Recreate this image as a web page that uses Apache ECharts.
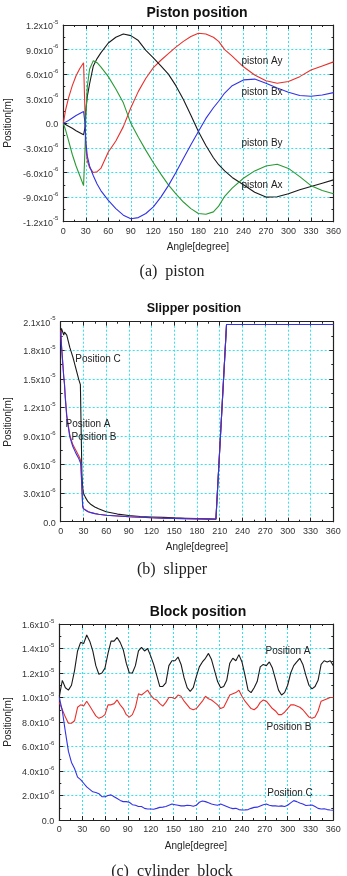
<!DOCTYPE html>
<html><head><meta charset="utf-8">
<script src="https://cdn.jsdelivr.net/npm/echarts@6/dist/echarts.min.js"></script>
<style>html,body{margin:0;padding:0;background:#fff}#c{width:347px;height:876px}</style>
</head><body><div id="c"></div>
<script>
// All position values are in units of 1e-6 m
// ---------- (a) piston ----------
const pistonAngles = [0,3,7,12,17,22,27,28,29,30,32,35,40,45,50,60,70,80,90,100,110,120,130,140,150,160,170,180,190,200,207,215,225,240,255,270,285,300,315,330,345,360];
const pistonAy = [0,1.6,3.1,4.6,5.8,6.7,7.4,7.2,1.0,-3.0,-4.6,-5.4,-6.0,-5.9,-5.5,-3.5,-2.15,-0.4,1.9,3.9,5.5,6.8,7.7,8.5,9.3,10.0,10.6,11.0,10.9,10.5,10.0,9.0,8.2,6.9,5.9,5.2,4.9,5.1,5.7,6.5,7.0,7.5];
const pistonAx = [0,-0.15,-0.35,-0.6,-0.9,-1.15,-1.4,-1.45,-0.5,1.5,3.3,4.8,7.0,7.9,8.6,9.8,10.5,10.9,10.7,10.1,8.9,8.0,7.0,6.0,4.6,2.9,1.0,-1.0,-2.7,-4.2,-5.05,-5.8,-6.6,-7.5,-8.4,-9.0,-8.95,-8.6,-8.1,-7.7,-7.3,-6.9];
const pistonBy = [0,-0.8,-2.1,-3.8,-5.2,-6.4,-7.6,-7.5,-3.0,1.0,4.5,6.6,7.65,7.4,6.9,5.7,4.2,2.5,0.0,-1.7,-3.3,-4.8,-6.2,-7.5,-8.6,-9.6,-10.4,-11.0,-11.1,-10.8,-10.1,-8.9,-7.9,-6.7,-5.8,-5.2,-5.0,-5.5,-6.5,-7.6,-8.2,-8.6];
const pistonBx = [0,0.15,0.35,0.65,0.95,1.2,1.45,1.5,0,-2.2,-4.0,-5.2,-6.4,-7.4,-8.2,-9.4,-10.4,-11.2,-11.65,-11.5,-11.0,-10.2,-9.0,-7.6,-6.0,-4.3,-2.6,-1.0,0.6,1.9,2.7,3.7,4.6,5.3,5.4,4.9,4.3,3.8,3.4,3.3,3.45,3.75];

// ---------- (b) slipper ----------
const slipperAngles = [0,1,3,4,5,6,8,12,16,20,24,26,27,28,29,30,33,36,40,45,50,60,75,90,105,120,135,150,165,180,195,205,206,219,240,270,300,330,360];
const slipperC = [19.6,20.3,20.1,19.6,19.9,20.0,19.6,18.3,17.3,16.1,14.9,14.4,14.2,5.0,3.6,3.0,2.5,2.1,1.8,1.55,1.35,1.05,0.8,0.65,0.55,0.5,0.45,0.4,0.37,0.34,0.31,0.28,0.28,20.7,20.7,20.7,20.7,20.7,20.7];
const slipperA = [20.1,18.6,16.4,15.3,14.5,13.2,11.2,9.1,8.1,7.5,6.9,6.5,6.3,3.6,1.7,1.4,1.22,1.07,0.96,0.86,0.78,0.68,0.6,0.52,0.47,0.42,0.38,0.35,0.32,0.3,0.27,0.25,0.25,20.7,20.7,20.7,20.7,20.7,20.7];
const slipperB = [20.0,18.5,16.3,15.2,14.4,13.0,11.0,8.9,7.9,7.2,6.6,6.2,5.9,3.5,1.6,1.35,1.2,1.05,0.95,0.85,0.78,0.68,0.6,0.52,0.47,0.42,0.38,0.35,0.32,0.3,0.27,0.25,0.25,20.7,20.7,20.7,20.7,20.7,20.7];

// ---------- (c) cylinder block ----------
const blockAngles = [0,4,8,12,16,20,24,28,32,36,40,44,48,52,56,60,64,68,72,76,80,84,88,92,96,100,104,108,112,116,120,124,128,132,136,140,144,148,152,156,160,164,168,172,176,180,184,188,192,196,200,204,208,212,216,220,224,228,232,236,240,244,248,252,256,260,264,268,272,276,280,284,288,292,296,300,304,308,312,316,320,324,328,332,336,340,344,348,352,356,360];
const blockA = [10.1,11.4,10.8,10.6,11.0,12.2,13.8,14.5,14.4,15.1,14.6,13.8,12.6,11.9,12.0,12.4,13.6,14.6,14.6,14.9,14.5,13.9,12.8,12.0,12.0,12.6,13.8,14.1,13.8,14.0,13.4,12.7,11.8,10.9,10.9,11.2,12.6,13.0,13.0,13.3,12.7,11.6,10.8,10.5,10.8,11.7,12.5,12.9,13.2,13.6,13.1,12.2,11.3,10.8,10.9,11.4,12.8,13.2,13.0,13.5,12.9,11.8,10.6,10.4,10.8,11.3,12.5,12.7,12.6,12.9,12.4,11.5,10.6,10.2,10.4,11.0,12.0,12.6,12.9,13.2,12.7,11.8,11.0,10.7,10.9,11.4,12.7,13.0,12.9,13.0,12.6];
const blockB = [9.6,9.0,8.4,7.9,7.9,8.1,9.2,9.4,9.3,9.7,9.3,8.9,8.5,8.3,8.4,8.6,9.4,9.4,9.5,9.8,9.4,9.1,8.6,8.4,8.6,9.2,10.3,10.2,10.4,10.6,10.2,9.9,9.8,9.5,9.3,9.6,10.0,10.0,9.9,10.2,10.1,9.7,9.4,9.1,9.0,9.1,9.4,9.7,10.1,9.9,9.8,9.6,9.4,9.1,9.2,9.7,10.2,10.3,10.4,10.6,10.1,9.7,9.4,9.1,9.0,9.2,9.6,9.8,9.7,9.4,9.1,8.9,8.6,8.6,8.8,9.1,9.4,9.4,9.3,9.2,9.0,8.7,8.4,8.3,8.4,8.9,9.7,9.8,9.9,10.0,10.0];
const blockC = [10.0,8.9,7.2,5.6,4.7,4.2,3.5,3.3,3.0,2.7,2.5,2.3,2.25,2.15,1.9,1.9,2.0,2.05,1.9,1.75,1.6,1.5,1.5,1.45,1.25,1.2,1.1,1.1,0.95,0.9,0.9,0.88,0.95,1.03,1.05,1.1,1.2,1.3,1.25,1.2,1.15,1.15,1.2,1.18,1.12,1.2,1.45,1.55,1.5,1.4,1.3,1.25,1.2,1.3,1.2,1.1,1.0,0.93,0.95,0.85,0.82,0.83,0.85,0.95,1.03,1.05,1.15,1.25,1.3,1.2,1.15,1.15,1.12,1.15,1.1,1.2,1.4,1.58,1.5,1.38,1.3,1.18,1.2,1.22,1.1,0.95,0.9,0.92,0.85,0.82,0.8];

const xTicks = [0,30,60,90,120,150,180,210,240,270,300,330,360];

const FONT = '"Liberation Sans", Arial, sans-serif';
const SERIF = '"Liberation Serif", "DejaVu Serif", serif';
const GRIDC = '#2fe3f2';
const RED = '#e8302c', BLK = '#1a1a1a', GRN = '#2a9a35', BLU = '#3232e6';

function sci(v) {
  if (Math.abs(v) < 1e-9) return '{m|0.0}';
  let e = -6, m = v;
  if (Math.abs(v) >= 10 - 1e-9) { e = -5; m = v / 10; }
  return '{m|' + m.toFixed(1) + 'x10}{s|' + e + '}';
}
const rich = {
  m: {fontSize: 9, fontFamily: FONT, color: '#333', lineHeight: 12, verticalAlign: 'bottom'},
  s: {fontSize: 6, fontFamily: FONT, color: '#333', lineHeight: 12, verticalAlign: 'top'}
};

const grids = [
  {left: 63.3, top: 25, width: 270.2, height: 196.7},
  {left: 60.7, top: 321.7, width: 272.6, height: 200},
  {left: 59.3, top: 624, width: 274, height: 196}
];
const yRanges = [[-12, 12, 3], [0, 21, 3], [0, 16, 2]];

const xAxes = [], yAxes = [];
grids.forEach((g, i) => {
  const axLine = {show: true, onZero: false, lineStyle: {color: '#222', width: 1.2}};
  const tick = {show: true, inside: true, length: 4, lineStyle: {color: '#222'}};
  const minor = {show: true, splitNumber: 2, length: 2, lineStyle: {color: '#222'}};
  xAxes.push({gridIndex: i, type: 'value', min: 0, max: 360, interval: 30, position: 'bottom',
    axisLine: axLine, axisTick: tick, minorTick: minor,
    axisLabel: {fontSize: 9, fontFamily: FONT, color: '#333', margin: 5},
    splitLine: {show: true, lineStyle: {color: GRIDC, type: [2, 2], width: 1}}});
  xAxes.push({gridIndex: i, type: 'value', min: 0, max: 360, interval: 30, position: 'top',
    axisLine: axLine, axisTick: tick, minorTick: minor, axisLabel: {show: false}, splitLine: {show: false}});
  const [mn, mx, iv] = yRanges[i];
  yAxes.push({gridIndex: i, type: 'value', min: mn, max: mx, interval: iv, position: 'left',
    axisLine: axLine, axisTick: tick, minorTick: minor,
    axisLabel: {formatter: sci, rich: rich, margin: 5, align: 'right'},
    splitLine: {show: true, lineStyle: {color: GRIDC, type: [2, 2], width: 1}}});
  yAxes.push({gridIndex: i, type: 'value', min: mn, max: mx, interval: iv, position: 'right',
    axisLine: axLine, axisTick: tick, minorTick: minor, axisLabel: {show: false}, splitLine: {show: false}});
});

function line(name, xs, ys, color, gi) {
  return {name, type: 'line', xAxisIndex: gi * 2, yAxisIndex: gi * 2,
    data: xs.map((x, k) => [x, ys[k]]), showSymbol: false, symbol: 'none',
    lineStyle: {color, width: 1.1}, itemStyle: {color}, animation: false, z: 3};
}

const series = [
  line('piston Ay', pistonAngles, pistonAy, RED, 0),
  line('piston Ax', pistonAngles, pistonAx, BLK, 0),
  line('piston By', pistonAngles, pistonBy, GRN, 0),
  line('piston Bx', pistonAngles, pistonBx, BLU, 0),
  line('Position C', slipperAngles, slipperC, BLK, 1),
  line('Position A', slipperAngles, slipperA, RED, 1),
  line('Position B', slipperAngles, slipperB, BLU, 1),
  line('Position A', blockAngles, blockA, BLK, 2),
  line('Position B', blockAngles, blockB, RED, 2),
  line('Position C', blockAngles, blockC, BLU, 2)
];

function txt(x, y, s, size, opts) {
  return Object.assign({type: 'text', x, y, z: 10,
    style: Object.assign({text: s, fontSize: size, fontFamily: FONT, fill: '#222',
      align: 'center', verticalAlign: 'middle'}, (opts && opts.style) || {})},
    (opts && opts.el) || {});
}

const graphic = [
  txt(197, 13, 'Piston position', 14, {style: {fontWeight: 'bold', fill: '#111'}}),
  txt(194, 309, 'Slipper position', 12.5, {style: {fontWeight: 'bold', fill: '#111'}}),
  txt(198, 612, 'Block position', 14, {style: {fontWeight: 'bold', fill: '#111'}}),
  txt(8.5, 123, 'Position[m]', 10, {el: {rotation: Math.PI / 2}}),
  txt(8.5, 422, 'Position[m]', 10, {el: {rotation: Math.PI / 2}}),
  txt(8.5, 722, 'Position[m]', 10, {el: {rotation: Math.PI / 2}}),
  txt(198, 247, 'Angle[degree]', 10),
  txt(197, 547, 'Angle[degree]', 10),
  txt(196, 846, 'Angle[degree]', 10),
  txt(262, 61, 'piston Ay', 10),
  txt(262, 92, 'piston Bx', 10),
  txt(262, 143.5, 'piston By', 10),
  txt(262, 185, 'piston Ax', 10),
  txt(98, 359, 'Position C', 10),
  txt(88, 424, 'Position A', 10),
  txt(94, 437, 'Position B', 10),
  txt(288, 651, 'Position A', 10),
  txt(289, 727, 'Position B', 10),
  txt(290, 793, 'Position C', 10),
  txt(172, 272, '(a)  piston', 16, {style: {fontFamily: SERIF}}),
  txt(172, 570, '(b)  slipper', 16, {style: {fontFamily: SERIF}}),
  txt(172, 872, '(c)  cylinder  block', 16, {style: {fontFamily: SERIF}})
];

const chart = echarts.init(document.getElementById('c'), null, {renderer: 'canvas'});
chart.setOption({
  animation: false,
  backgroundColor: '#fff',
  grid: grids.map(g => Object.assign({containLabel: false}, g)),
  xAxis: xAxes,
  yAxis: yAxes,
  series,
  graphic
});
</script>
</body></html>
